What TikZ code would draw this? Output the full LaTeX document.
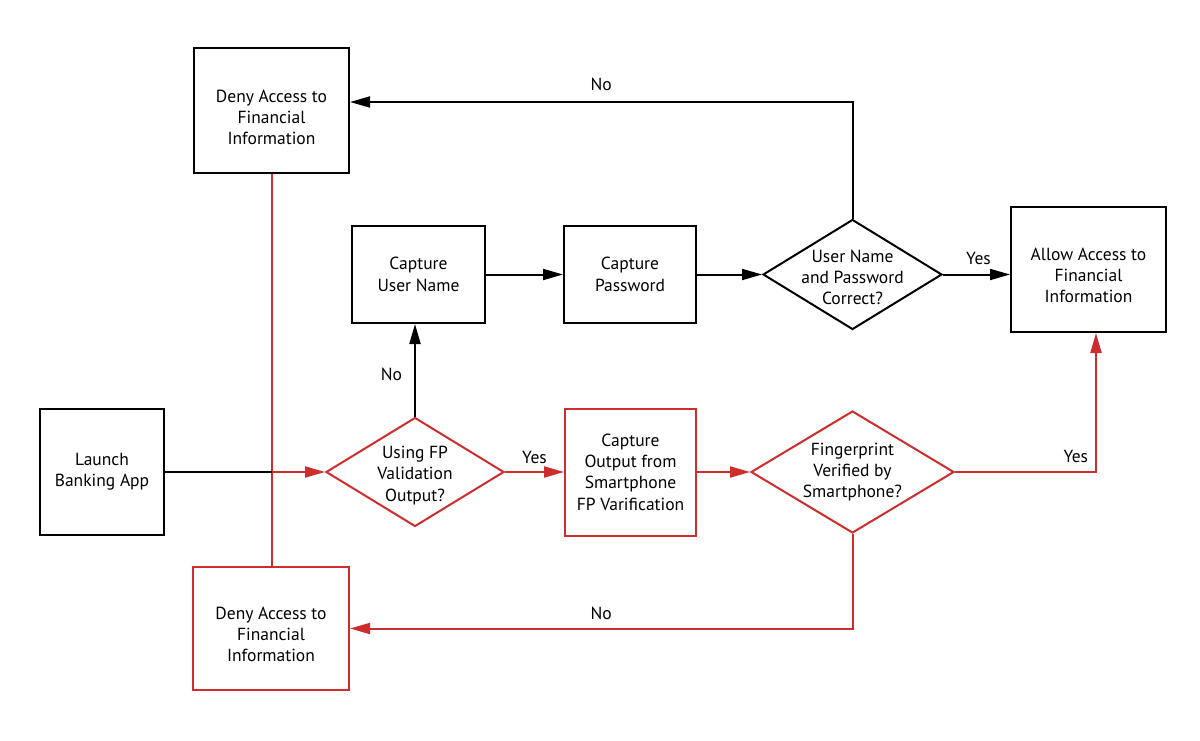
\documentclass[tikz,border=0pt]{standalone}
\usepackage{fontspec}
\setmainfont{PT Sans}
\usetikzlibrary{shapes.geometric,arrows.meta}
\definecolor{myred}{RGB}{205,45,45}
\tikzset{
  every node/.style={font=\fontsize{17.5}{21.3}\selectfont},
  box/.style={draw, line width=2pt, rectangle, inner sep=0pt, align=center},
  dia/.style={draw, line width=2pt, diamond, inner sep=0pt},
  txt/.style={align=center, inner sep=0pt},
  lbl/.style={inner sep=0pt, text=black},
  conn/.style={line width=2pt},
  arr/.style={line width=2pt, -{Triangle[length=20pt,width=11pt]}},
}
\begin{document}
\begin{tikzpicture}[x=1pt,y=-1pt]
\useasboundingbox (0,0) rectangle (1200,741);
% boxes
\node[box, minimum width=155, minimum height=125] (deny1) at (271.5,110.5) {};
\node[txt] (deny1t) at (271.5,117.5) {Deny Access to\\Financial\\Information};
\node[box, minimum width=133, minimum height=97] (cun) at (418.5,274.5) {Capture\\User Name};
\node[box, minimum width=132, minimum height=97] (cpw) at (630,274.5) {Capture\\Password};
\node[dia, minimum width=179, minimum height=110] (d1) at (852.5,274.5) {};
\node[txt] (d1t) at (852.5,277.5) {User Name\\and Password\\Correct?};
\node[box, minimum width=155, minimum height=125] (allow) at (1088.5,269.5) {};
\node[txt] (allowt) at (1088.5,275.5) {Allow Access to\\Financial\\Information};
\node[box, minimum width=124, minimum height=126] (launch) at (102,472) {Launch\\Banking App};
\node[dia, draw=myred, minimum width=178, minimum height=109] (dfp) at (415,472) {};
\node[txt] (dfpt) at (415,475.5) {Using FP\\Validation\\Output?};
\node[box, draw=myred, minimum width=131, minimum height=127] (cout) at (630.5,472) {Capture\\Output from\\Smartphone\\FP Varification};
\node[dia, draw=myred, minimum width=203, minimum height=122] (dver) at (852.5,472) {};
\node[txt] (dvert) at (852.5,472) {Fingerprint\\Verified by\\Smartphone?};
\node[box, draw=myred, minimum width=156, minimum height=123] (deny2) at (271,628.5) {};
\node[txt] (deny2t) at (271,634.5) {Deny Access to\\Financial\\Information};
% junction
\coordinate (jn) at (deny1.south |- launch.east);
% connectors
\draw[conn, myred] (deny1.south) -- (deny1.south |- deny2.north);
\draw[conn] (launch.east) -- (jn);
\draw[arr, myred] (jn) -- (dfp.west);
\draw[arr] (dfp.north) -- node[lbl, pos=0.5, left=12pt, yshift=-4pt] {No} (dfp.north |- cun.south);
\draw[arr, myred] (dfp.east) -- node[lbl, above=7pt] {Yes} (cout.west);
\draw[arr] (cun.east) -- (cpw.west);
\draw[arr] (cpw.east) -- (d1.west);
\draw[arr] (d1.north) |- node[lbl, pos=0.75, above=10pt] {No} ([yshift=8.5pt]deny1.east);
\draw[arr] (d1.east) -- node[lbl, above=9pt, xshift=2pt] {Yes} (d1.east -| allow.west);
\draw[arr, myred] (cout.east) -- (dver.west);
\draw[arr, myred] (dver.east) -| node[lbl, pos=0.4, above=8pt, xshift=8pt] {Yes} ([xshift=7.5pt]allow.south);
\draw[arr, myred] (dver.south) |- node[lbl, pos=0.75, above=8pt] {No} (deny2.east);
\end{tikzpicture}
\end{document}
